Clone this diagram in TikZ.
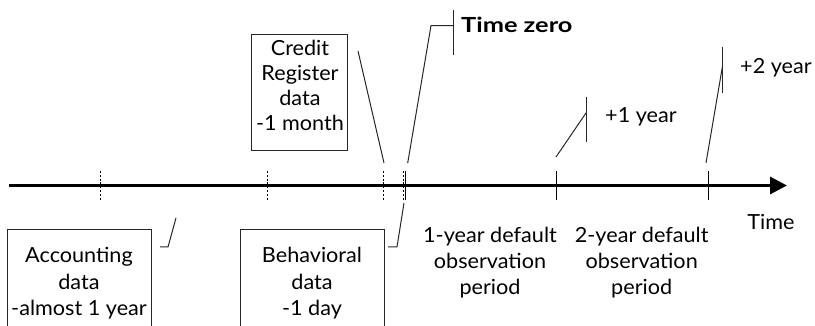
\documentclass[tikz,border=0pt]{standalone}
\usepackage{fontspec}
\setmainfont{Lato}[FakeStretch=1.04]
\newfontfamily\tzfont{Lato}[FakeStretch=1.22]
\usetikzlibrary{arrows.meta}
\begin{document}
\begin{tikzpicture}[x=1pt,y=-1pt,
  lbl/.style={align=center, inner sep=0pt, font=\fontsize{20.8}{26.5}\selectfont},
  thinline/.style={line width=1pt, black!85},
  dtick/.style={line width=0.9pt, dash pattern=on 2pt off 1.8pt},
  stick/.style={line width=1pt},
  axisline/.style={line width=3pt, -{Triangle[length=17pt,width=17pt]}}]
\useasboundingbox (0,0) rectangle (815,326);
% axis
\coordinate (a0) at (9,185.5);
\coordinate (a1) at (787,185.5);
\draw[axisline] (a0) -- (a1);
% ticks
\foreach \x/\n in {100/d1,267/d2,383/d3,403/d4} {
  \coordinate (\n top) at (\x,171);
  \coordinate (\n bot) at (\x,200);
  \draw[dtick] (\n top) -- (\n bot);
}
\foreach \x/\n in {405.5/t0,556/t1,708/t2} {
  \coordinate (\n top) at (\x,171);
  \coordinate (\n bot) at (\x,200);
  \draw[stick] (\n top) -- (\n bot);
}
% boxes
\draw[thinline] (7,327) |- (151,230) -- (151,327);
\draw[thinline] (240,327) |- (384,230) -- (384,327);
\node[draw, thinline, minimum width=95.6pt, minimum height=116pt, inner sep=0pt] (crbox) at (299.5,93) {};
% labels
\node[lbl] (acc) at (79,283.3) {Accounting\\data\\-almost 1 year};
\node[lbl] (beh) at (312,283.3) {Behavioral\\data\\-1 day};
\node[lbl, font=\fontsize{20.8}{25}\selectfont] (cred) at (300,85) {Credit\\Register\\data\\-1 month};
\node[lbl, font=\fontsize{20.8}{26}\selectfont] (obs1) at (490,262.2) {1-year default\\observation\\period};
\node[lbl, font=\fontsize{20.8}{26}\selectfont] (obs2) at (641.7,262.2) {2-year default\\observation\\period};
\node[lbl] (time) at (771,222) {Time};
\node[lbl, anchor=west] (p1) at (605,117) {+1 year};
\node[lbl, anchor=west] (p2) at (740,68) {+2 year};
\node[lbl, anchor=base west, font=\fontsize{20.8}{26.5}\tzfont\bfseries] (tz) at (461,32.5) {Time zero};
% leader lines
\coordinate (accA) at (160,247); \coordinate (accB) at (168,247); \coordinate (accC) at (176,218);
\draw[thinline] (accA) -- (accB) -- (accC);
\coordinate (behA) at (388,247); \coordinate (behB) at (397,247); \coordinate (behC) at (404,203);
\draw[thinline] (behA) -- (behB) -- (behC);
\coordinate (crA) at (358,51); \coordinate (crB) at (384,163);
\draw[thinline] (crA) -- (crB);
\coordinate (tzA) at (407.7,163); \coordinate (tzB) at (431,25.7); \coordinate (tzC) at (453,25.7);
\coordinate (tzT) at (453,10.5); \coordinate (tzD) at (453,55);
\draw[thinline] (tzA) -- (tzB) -- (tzC);
\draw[thinline] (tzT) -- (tzD);
\coordinate (p1A) at (556,157); \coordinate (p1B) at (586,113);
\coordinate (p1T) at (586,97); \coordinate (p1D) at (586,142);
\draw[thinline] (p1A) -- (p1B);
\draw[thinline] (p1T) -- (p1D);
\coordinate (p2A) at (706,163); \coordinate (p2B) at (722.7,65);
\coordinate (p2T) at (722.7,47); \coordinate (p2D) at (722.7,93);
\draw[thinline] (p2A) -- (p2B);
\draw[thinline] (p2T) -- (p2D);
\end{tikzpicture}
\end{document}
